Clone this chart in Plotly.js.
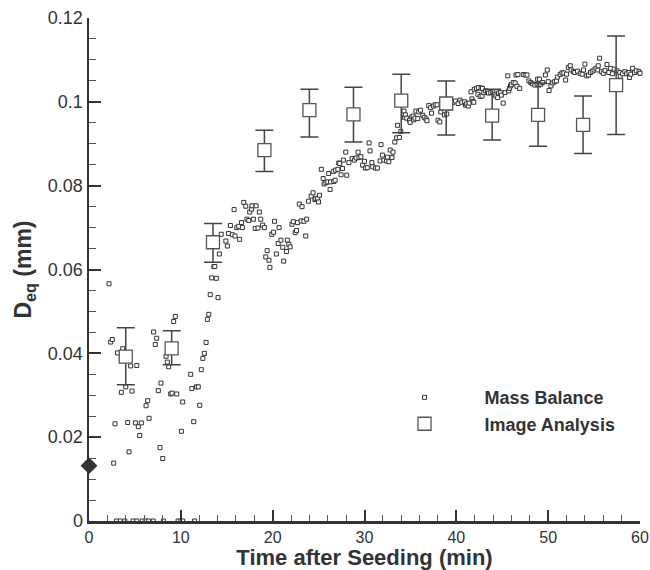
<!DOCTYPE html>
<html>
<head>
<meta charset="utf-8">
<script src="https://cdn.plot.ly/plotly-3.0.1.min.js"></script>
<style>html,body{margin:0;padding:0;background:#fff;}#chart{width:650px;height:570px;}</style>
</head>
<body>
<div id="chart"></div>
<script>
// Mass balance (time in min, Deq in mm)
const massT = [2.18,2.36,2.54,2.69,2.83,3.0,3.1,3.4,3.52,3.67,3.9,4.0,4.21,4.36,4.54,4.68,4.8,5.05,5.2,5.2,5.37,5.52,5.7,5.8,6.2,6.21,6.39,6.5,6.54,7.0,7.04,7.22,7.37,7.55,7.73,7.84,8.03,8.1,8.39,8.53,8.68,8.9,9.04,9.22,9.4,9.55,9.7,10.0,10.06,10.2,10.2,11.07,11.2,11.4,11.5,11.7,11.9,12.06,12.23,12.4,12.56,12.75,12.89,13.04,13.2,13.36,13.6,13.7,13.87,14.05,14.2,14.4,14.9,15.07,
15.2,15.4,15.6,15.8,15.9,16.1,16.3,16.4,16.6,16.7,16.85,17.07,17.2,17.4,17.5,17.7,17.75,17.9,18.1,18.2,18.4,18.55,18.7,18.9,19.1,19.25,19.4,19.6,19.7,19.9,20.1,20.2,20.4,20.6,20.7,20.9,21.1,21.2,21.5,21.6,21.75,21.9,22.1,22.25,22.45,22.6,22.7,22.9,23.1,23.2,23.4,23.6,23.7,23.9,24.2,24.4,24.6,24.7,24.9,25.0,25.1,25.3,25.5,25.6,25.8,26.0,26.1,26.25,26.3,26.6,26.65,26.8,26.85,27.1,27.2,27.3,27.45,27.6,27.7,27.96,28.07,28.3,28.65,28.9,29.1,29.3,29.4,29.6,29.8,30.0,30.1,30.3,30.5,30.6,30.8,30.9,31.2,31.4,31.7,31.8,31.95,32.1,32.4,32.5,32.65,32.8,33.0,33.1,33.3,33.5,33.6,33.8,33.95,
34.3,34.35,34.45,34.6,34.9,34.97,35.15,35.3,35.35,35.5,35.6,35.8,35.9,36.1,36.35,36.5,36.7,36.8,37.0,37.2,37.3,37.5,37.7,37.9,38.0,38.2,38.3,38.7,38.95,39.3,39.6,39.9,40.2,40.4,40.6,40.9,41.0,41.1,41.3,41.4,41.6,41.7,41.8,41.9,41.95,42.2,42.35,42.4,42.6,42.7,42.8,42.85,43.0,43.2,43.4,43.5,43.75,43.97,44.2,44.3,44.5,44.6,44.8,44.9,45.1,45.3,45.6,45.7,45.8,45.9,46.0,46.2,46.4,46.5,46.6,46.7,46.9,47.3,47.5,47.7,47.9,48.1,48.3,48.55,48.8,48.85,49.0,49.05,49.2,49.4,49.7,49.9,50.0,50.1,50.3,50.5,50.7,50.9,51.0,51.3,51.5,51.7,51.9,52.0,52.2,52.4,52.5,52.75,52.9,53.2,53.5,53.7,53.85,54.0,54.2,54.4,54.6,54.8,55.0,55.2,55.4,55.45,55.6,55.8,56.0,56.2,56.4,56.6,56.8,57.0,57.2,57.5,57.8,57.85,58.1,58.35,58.55,58.8,58.85,59.0,59.2,59.4,59.6,59.9,60.0];
const massD = [0.0566,0.0427,0.0433,0.0138,0.0232,0,0.0401,0,0.0307,0.0411,0,0.032,0.0235,0.0165,0.037,0.031,0,0.0234,0.0371,0,0.0225,0.0204,0.0234,0,0,0.0275,0.0287,0,0.0245,0,0.0451,0.0421,0.0436,0.0311,0.0175,0.0329,0.0149,0,0.0393,0.0379,0.0368,0.0303,0.0305,0.0476,0.0488,0.0303,0,0,0.0214,0.0284,0,0.035,0.0316,0.0237,0,0.032,0.032,0.0276,0.0361,0.0388,0.04,0.0426,0.0481,0.0493,0.054,0.058,0.0607,0.0607,0.0579,0.0533,0.0637,0.0684,0.0668,0.0656,
0.0686,0.0705,0.0683,0.0743,0.068,0.07,0.0703,0.0672,0.0712,0.07,0.076,0.0751,0.072,0.0717,0.0737,0.0744,0.0752,0.072,0.0698,0.0752,0.0699,0.0737,0.072,0.0706,0.07,0.063,0.0645,0.0622,0.0605,0.0684,0.0689,0.0715,0.0637,0.0662,0.07,0.067,0.0653,0.062,0.0643,0.067,0.066,0.0654,0.0708,0.0714,0.0688,0.0693,0.0712,0.0756,0.0716,0.075,0.0715,0.068,0.072,0.0763,0.0775,0.0783,0.0767,0.0769,0.077,0.0761,0.0777,0.0839,0.0817,0.0804,0.0807,0.0809,0.0829,0.0791,0.0809,0.0834,0.081,0.0813,0.0837,0.0839,0.0854,0.0853,0.0826,0.0841,0.0861,0.088,0.0825,0.0855,0.0865,0.0861,0.0866,0.088,0.0867,0.0869,0.0849,0.0858,0.0842,0.0843,0.0902,0.0883,0.0855,0.0845,0.0842,0.0842,0.0859,0.0898,0.0873,0.0861,0.0859,0.0868,0.0857,0.0885,0.0867,0.088,0.0904,0.0914,0.0944,0.0915,0.0929,
0.0978,0.0963,0.0969,0.0961,0.0956,0.0951,0.0964,0.0966,0.0957,0.0961,0.0978,0.096,0.0976,0.098,0.0968,0.0963,0.0959,0.0955,0.0991,0.0986,0.0973,0.099,0.0993,0.0993,0.0956,0.0952,0.0976,0.0969,0.0971,0.0985,0.0998,0.1002,0.0996,0.1004,0.0999,0.1,0.0992,0.0995,0.099,0.0997,0.1024,0.1007,0.1001,0.0999,0.103,0.1032,0.1018,0.1034,0.1013,0.1033,0.1014,0.1032,0.1022,0.1026,0.1025,0.1021,0.1022,0.1024,0.1018,0.1014,0.101,0.1021,0.1022,0.1016,0.0997,0.1022,0.1062,0.1026,0.1032,0.1038,0.1041,0.1046,0.1045,0.1064,0.1037,0.1065,0.1032,0.1065,0.1064,0.1064,0.105,0.1046,0.1043,0.104,0.1042,0.1054,0.104,0.1054,0.1042,0.1046,0.1064,0.1076,0.1048,0.1027,0.1038,0.1045,0.1048,0.105,0.1059,0.1065,0.1069,0.1069,0.1052,0.1066,0.1082,0.1086,0.1076,0.1072,0.107,0.1073,0.1068,0.1066,0.1076,0.109,0.1062,0.1064,0.107,0.1073,0.1076,0.108,0.1076,0.1086,0.1104,0.1072,0.1068,0.1075,0.1089,0.107,0.108,0.1067,0.1078,0.1074,0.107,0.1061,0.1067,0.1072,0.1067,0.107,0.1058,0.1066,0.108,0.107,0.1074,0.1072,0.1068];

// Image analysis
const imgT = [4.0, 9.0, 13.5, 19.1, 24.0, 28.8, 34.0, 38.9, 43.9, 48.9, 53.8, 57.4];
const imgD = [0.0392, 0.0412, 0.0665, 0.0885, 0.098, 0.097, 0.1003, 0.0996, 0.0967, 0.0969, 0.0945, 0.104];
const imgHigh = [0.0461, 0.0454, 0.071, 0.0932, 0.103, 0.1035, 0.1066, 0.105, 0.103, 0.1045, 0.1014, 0.1157];
const imgLow = [0.0325, 0.0373, 0.0617, 0.0834, 0.0916, 0.0904, 0.0926, 0.0921, 0.0909, 0.0894, 0.0877, 0.0922];

// Initial seed size
const seedT = [0];
const seedD = [0.0132];

const xTickVals = [0, 10, 20, 30, 40, 50, 60];
const yTickVals = [0, 0.02, 0.04, 0.06, 0.08, 0.1, 0.12];
const yTickText = ["0", "0.02", "0.04", "0.06", "0.08", "0.1", "0.12"];

const errPlus = imgHigh.map((h, i) => h - imgD[i]);
const errMinus = imgLow.map((l, i) => imgD[i] - l);

const FONT = '"Liberation Sans", Arial, Helvetica, sans-serif';
const DARK = '#333333';

const traces = [
  {
    x: massT, y: massD, type: 'scatter', mode: 'markers', name: 'Mass Balance',
    cliponaxis: false,
    marker: {symbol: 'square', size: 4, color: '#ffffff', line: {color: DARK, width: 1}}
  },
  {
    x: imgT, y: imgD, type: 'scatter', mode: 'markers', showlegend: false, hoverinfo: 'skip',
    marker: {symbol: 'square', size: 13, opacity: 0},
    error_y: {type: 'data', symmetric: false, array: errPlus, arrayminus: errMinus,
              color: '#444444', thickness: 1.5, width: 9}
  },
  {
    x: imgT, y: imgD, type: 'scatter', mode: 'markers', name: 'Image Analysis',
    marker: {symbol: 'square', size: 13, color: '#ffffff', line: {color: '#555555', width: 1.3}}
  },
  {
    x: seedT, y: seedD, type: 'scatter', mode: 'markers', showlegend: false, cliponaxis: false,
    marker: {symbol: 'diamond', size: 13, color: DARK}
  }
];

const layout = {
  width: 650, height: 570,
  margin: {l: 89, r: 10, t: 18, b: 49},
  paper_bgcolor: '#ffffff', plot_bgcolor: '#ffffff',
  font: {family: FONT, color: DARK, size: 16},
  showlegend: true,
  legend: {
    x: 0.5, y: 0.282, xanchor: 'left', yanchor: 'top',
    bgcolor: 'rgba(0,0,0,0)', borderwidth: 0,
    font: {family: FONT, size: 18, color: DARK, weight: 'bold'},
    itemwidth: 110, tracegroupgap: 0
  },
  xaxis: {
    range: [0, 60], tickmode: 'array', tickvals: xTickVals,
    showgrid: false, zeroline: false,
    showline: true, linecolor: DARK, linewidth: 2.5, mirror: false,
    ticks: 'inside', ticklen: 11, tickwidth: 2, tickcolor: DARK,
    minor: {dtick: 2, ticks: 'inside', ticklen: 6, tickwidth: 1, tickcolor: '#555555'},
    tickfont: {family: FONT, size: 16, color: DARK},
    title: {text: 'Time after Seeding (min)', font: {family: FONT, size: 22, color: DARK, weight: 'bold'}, standoff: 1}
  },
  yaxis: {
    range: [0, 0.12], tickmode: 'array', tickvals: yTickVals, ticktext: yTickText,
    showgrid: false, zeroline: false,
    showline: true, linecolor: DARK, linewidth: 2.5, mirror: false,
    ticks: 'inside', ticklen: 12, tickwidth: 2, tickcolor: DARK,
    minor: {dtick: 0.005, ticks: 'inside', ticklen: 7, tickwidth: 1, tickcolor: '#555555'},
    tickfont: {family: FONT, size: 18, color: DARK},
    title: {text: 'D<sub>eq</sub> (mm)', font: {family: FONT, size: 23, color: DARK, weight: 'bold'}, standoff: 10}
  }
};

Plotly.newPlot('chart', traces, layout, {staticPlot: true, displayModeBar: false});
</script>
</body>
</html>
